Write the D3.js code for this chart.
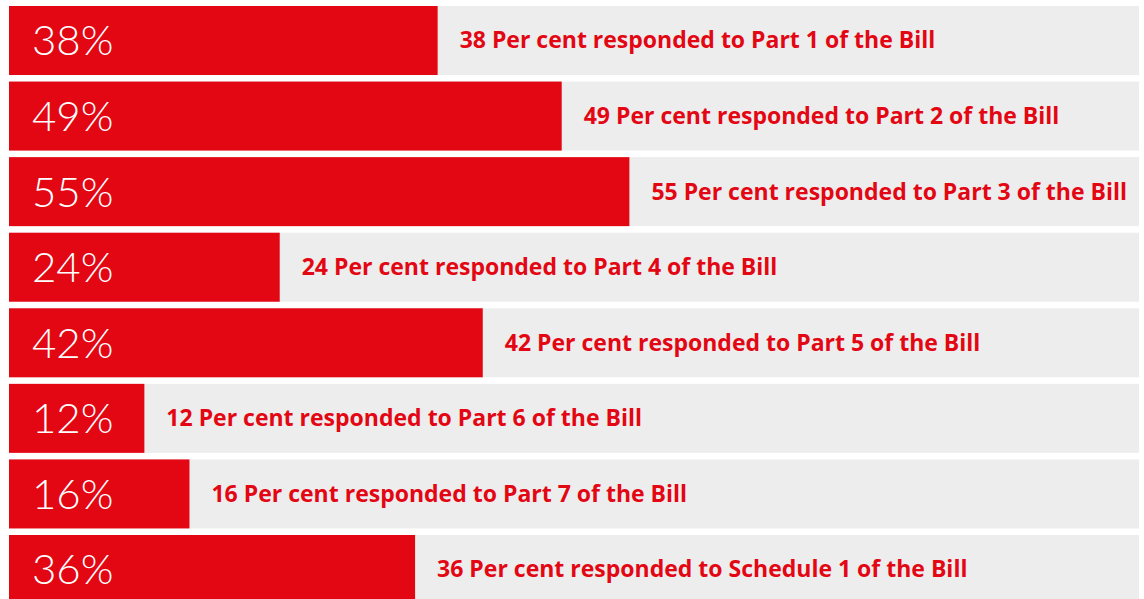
<!DOCTYPE html>
<html>
<head>
<meta charset="utf-8">
<script src="https://cdn.jsdelivr.net/npm/d3@7"></script>
<style>
  body { margin: 0; background: #fff; }
</style>
</head>
<body>
<div id="chart"></div>
<script>
const parts = ['Part 1', 'Part 2', 'Part 3', 'Part 4', 'Part 5', 'Part 6', 'Part 7', 'Schedule 1'];
const percents = [38, 49, 55, 24, 42, 12, 16, 36];

const width = 1144, height = 599;
const red = '#e30613', grey = '#ededed';

const svg = d3.select('#chart').append('svg')
  .attr('width', width)
  .attr('height', height);

const x = d3.scaleLinear().domain([0, 100]).range([9, 1137]);
// rows: period ~75.6, last row is cut by the bottom edge
const y = d3.scaleBand().domain(parts).range([6, 604]).paddingInner(0.087).paddingOuter(0);

const rows = svg.selectAll('g.row')
  .data(parts)
  .join('g')
  .attr('class', 'row')
  .attr('transform', d => `translate(0,${y(d)})`);

// grey background
rows.append('rect')
  .attr('x', x(0))
  .attr('width', 1139 - x(0))
  .attr('height', y.bandwidth())
  .attr('fill', grey);

// red bar
rows.append('rect')
  .attr('x', x(0))
  .attr('width', (d, i) => x(percents[i]) - x(0))
  .attr('height', y.bandwidth())
  .attr('fill', red);

// big percentage inside the bar
rows.append('text')
  .attr('x', 32)
  .attr('y', y.bandwidth() / 2 + 15)
  .attr('fill', '#fff')
  .style('font-family', 'Lato, "Open Sans", sans-serif')
  .style('font-weight', 300)
  .style('font-size', '42px')
  .text((d, i) => percents[i] + '%');

// description to the right of the bar
rows.append('text')
  .attr('x', (d, i) => x(percents[i]) + 22)
  .attr('y', y.bandwidth() / 2 + 8)
  .attr('fill', red)
  .style('font-family', '"Open Sans", sans-serif')
  .style('font-weight', 700)
  .style('font-size', '23px')
  .text((d, i) => `${percents[i]} Per cent responded to ${d} of the Bill`);
</script>
</body>
</html>
